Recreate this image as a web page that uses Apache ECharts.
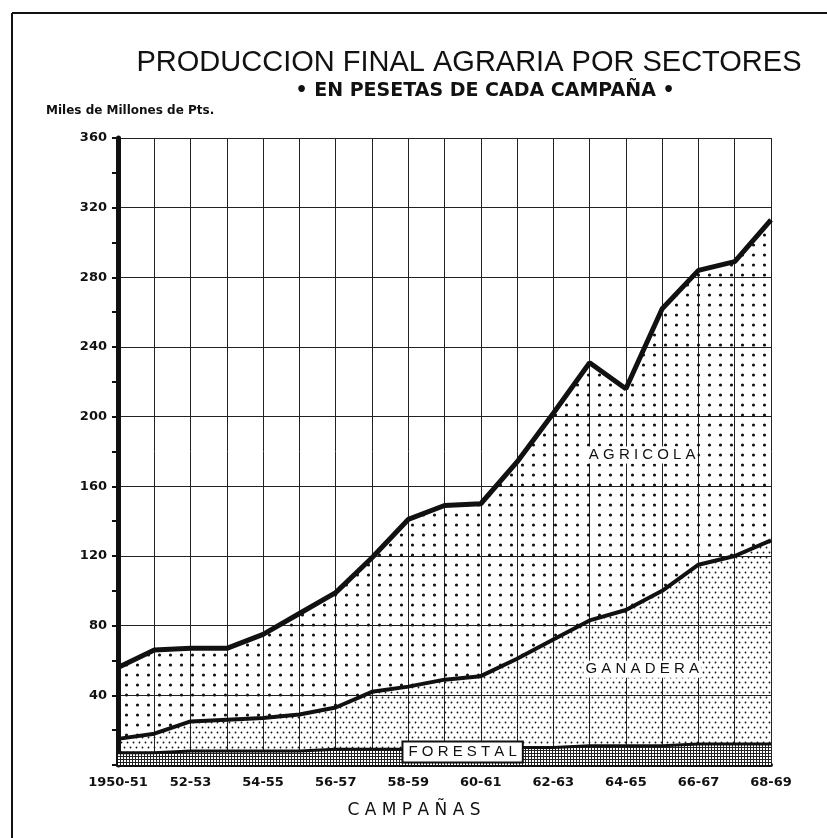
<!DOCTYPE html>
<html>
<head>
<meta charset="utf-8">
<script src="https://cdn.jsdelivr.net/npm/echarts@6/dist/echarts.min.js"></script>
<style>
  html, body { margin: 0; padding: 0; background: #fff; }
  #main { width: 827px; height: 838px; }
</style>
</head>
<body>
<div id="main"></div>
<script>
// campañas 1950-51 .. 1968-69
var campanas = ['1950-51', '51-52', '52-53', '53-54', '54-55', '55-56', '56-57', '57-58', '58-59', '59-60',
	'60-61', '61-62', '62-63', '63-64', '64-65', '65-66', '66-67', '67-68', '68-69'];
// miles de millones de pts. (cada sector, se apilan)
var forestal = [7, 7, 8, 8, 8, 8, 9, 9, 9, 9, 10, 10, 10, 11, 11, 11, 12, 12, 12];
var ganadera = [8, 11, 17, 18, 19, 21, 24, 33, 36, 40, 41, 51, 62, 72, 78, 89, 103, 108, 117];
var agricola = [41, 48, 42, 41, 48, 58, 66, 77, 96, 100, 99, 113, 130, 148, 127, 162, 169, 169, 184];
var yTicks = [0, 40, 80, 120, 160, 200, 240, 280, 320, 360];

var FONT = '"Liberation Sans", Arial, sans-serif';
var FONT_B = '"DejaVu Sans", "Liberation Sans", sans-serif';

// tramas de puntos para las areas
function trama(w, h, dots, r) {
	var c = document.createElement('canvas');
	c.width = w; c.height = h;
	var ctx = c.getContext('2d');
	ctx.fillStyle = '#111';
	dots.forEach(function(d) {
		ctx.beginPath();
		ctx.arc(d[0], d[1], r, 0, Math.PI * 2);
		ctx.fill();
	});
	return c;
}
function malla() {
	var c = document.createElement('canvas');
	c.width = 3; c.height = 3;
	var ctx = c.getContext('2d');
	ctx.fillStyle = '#fff';
	ctx.fillRect(0, 0, 3, 3);
	ctx.fillStyle = '#222';
	ctx.fillRect(0, 0, 3, 1);
	ctx.fillRect(0, 0, 1, 3);
	return c;
}
var tramaAgricola = trama(11, 10, [[5.5, 5]], 1.6);
var tramaGanadera = trama(6, 10, [[1.5, 2.5], [4.5, 7.5]], 0.9);
var tramaForestal = malla();

var myChart = echarts.init(document.getElementById('main'));

var option = {
	backgroundColor: '#fff',
	animation: false,
	title: [{
		text: 'PRODUCCION FINAL AGRARIA POR SECTORES',
		left: 464,
		top: 43,
		textAlign: 'center',
		textStyle: { fontFamily: FONT, fontSize: 29, fontWeight: 'normal', color: '#111' }
	}, {
		text: '• EN PESETAS DE CADA CAMPAÑA •',
		left: 480,
		top: 77,
		textAlign: 'center',
		textStyle: { fontFamily: FONT_B, fontSize: 19, fontWeight: 'bold', color: '#111' }
	}],
	grid: { left: 118, right: 56, top: 138, bottom: 73 },
	xAxis: {
		type: 'category',
		data: campanas,
		boundaryGap: false,
		axisLine: { lineStyle: { color: '#111', width: 4 } },
		axisTick: { show: false },
		axisLabel: { interval: 1, margin: 11, color: '#111', fontFamily: FONT_B, fontWeight: 'bold', fontSize: 13 },
		splitLine: { show: true, interval: 0, lineStyle: { color: '#222', width: 1 } }
	},
	yAxis: {
		type: 'value',
		min: yTicks[0],
		max: yTicks[yTicks.length - 1],
		interval: 40,
		axisLine: { show: true, lineStyle: { color: '#111', width: 5 } },
		axisTick: { show: true, length: 6, lineStyle: { color: '#111', width: 2 } },
		minorTick: { show: true, splitNumber: 2, length: 6, lineStyle: { color: '#111', width: 2 } },
		axisLabel: { margin: 11, color: '#111', fontFamily: FONT_B, fontWeight: 'bold', fontSize: 13,
			formatter: function(v) { return v === 0 ? '' : v; } },
		splitLine: { show: true, lineStyle: { color: '#222', width: 1 } }
	},
	series: [{
		name: 'Forestal',
		type: 'line',
		stack: 'total',
		symbol: 'none',
		data: forestal,
		lineStyle: { color: '#111', width: 3 },
		areaStyle: { color: { image: tramaForestal, repeat: 'repeat' }, opacity: 1 }
	}, {
		name: 'Ganadera',
		type: 'line',
		stack: 'total',
		symbol: 'none',
		data: ganadera,
		lineStyle: { color: '#111', width: 4 },
		areaStyle: { color: { image: tramaGanadera, repeat: 'repeat' }, opacity: 1 }
	}, {
		name: 'Agricola',
		type: 'line',
		stack: 'total',
		symbol: 'none',
		data: agricola,
		lineStyle: { color: '#111', width: 5 },
		areaStyle: { color: { image: tramaAgricola, repeat: 'repeat' }, opacity: 1 }
	}]
};
myChart.setOption(option);

// rotulos de sector, marco y textos sueltos
// el eje de categorias redondea, asi que se interpola entre dos campañas
function px(i, v) {
	var a = myChart.convertToPixel({ xAxisIndex: 0, yAxisIndex: 0 }, [Math.floor(i), v]);
	var b = myChart.convertToPixel({ xAxisIndex: 0, yAxisIndex: 0 }, [Math.floor(i) + 1, v]);
	var t = i - Math.floor(i);
	return [a[0] + (b[0] - a[0]) * t, a[1]];
}
var pAgr = px(14.45, 178), pGan = px(14.45, 55), pFor = px(9.5, 7.5);
var rotulo = { fontFamily: FONT, fontSize: 15, fill: '#111', align: 'center', verticalAlign: 'middle' };

myChart.setOption({
	graphic: [
		{ type: 'line', shape: { x1: 12, y1: 13, x2: 827, y2: 13 }, style: { stroke: '#111', lineWidth: 2 } },
		{ type: 'line', shape: { x1: 12, y1: 13, x2: 12, y2: 838 }, style: { stroke: '#111', lineWidth: 2 } },
		{ type: 'text', left: 46, top: 105, style: { text: 'Miles de Millones de Pts.', fontFamily: FONT_B, fontSize: 12, fontWeight: 'bold', fill: '#111' } },
		{ type: 'text', x: 414, y: 811, style: { text: 'C A M P A Ñ A S', fontFamily: FONT_B, fontSize: 17, fill: '#111', align: 'center', verticalAlign: 'middle' } },
		{ type: 'text', x: pAgr[0], y: pAgr[1], z: 10, style: Object.assign({ text: 'A G R I C O L A', backgroundColor: '#fff', padding: [1, 2] }, rotulo) },
		{ type: 'text', x: pGan[0], y: pGan[1], z: 10, style: Object.assign({ text: 'G A N A D E R A', backgroundColor: '#fff', padding: [1, 2] }, rotulo) },
		{ type: 'text', x: pFor[0], y: pFor[1], z: 10, style: Object.assign({ text: 'F O R E S T A L', backgroundColor: '#fff', borderColor: '#111', borderWidth: 2, padding: [2, 5] }, rotulo) }
	]
});
</script>
</body>
</html>
